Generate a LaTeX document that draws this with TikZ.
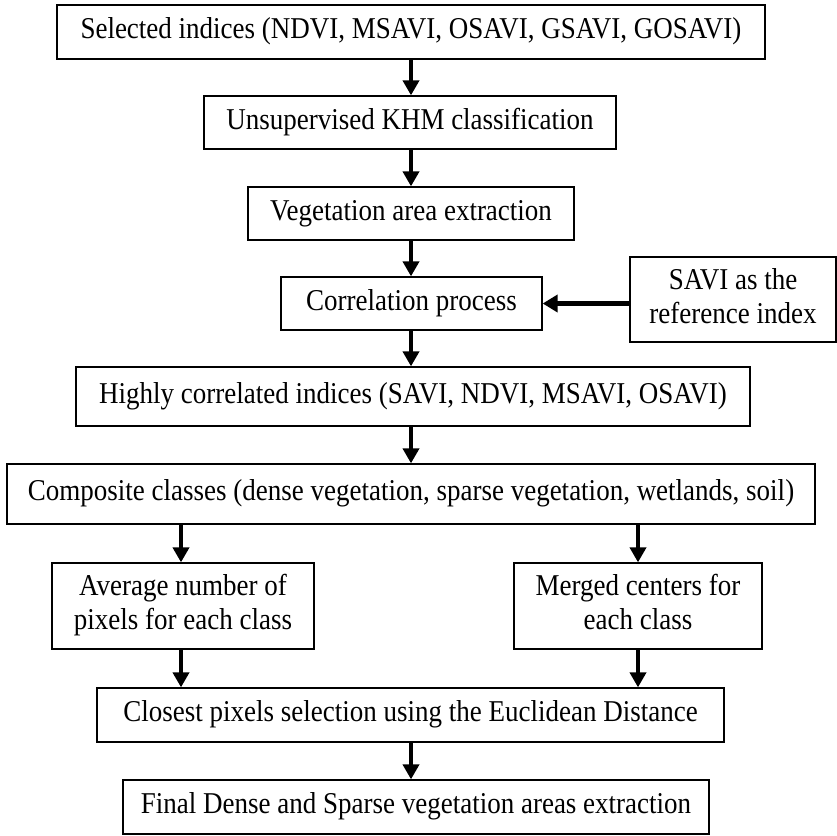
\documentclass[tikz,border=0pt]{standalone}
\usepackage{fontspec}
\setmainfont{Liberation Serif}
\usetikzlibrary{arrows.meta}
\newcommand\vt[1]{\scalebox{1}[1.12]{\begin{tabular}{@{}c@{}}#1\end{tabular}}}
\begin{document}
\begin{tikzpicture}[x=1pt,y=-1pt,
  box/.style={draw, line width=1.3pt, inner sep=0pt, align=center,
    font=\fontsize{27}{30.5}\selectfont},
  arr/.style={line width=4.5pt, -{Triangle[length=15pt,width=16pt]}},
  harr/.style={line width=5.5pt, -{Triangle[length=15pt,width=17pt]}}]
\useasboundingbox (0,0) rectangle (837,835);
\node[box, minimum width=708, minimum height=54] (b1) at (411,32) {\vt{Selected indices (NDVI, MSAVI, OSAVI, GSAVI, GOSAVI)}};
\node[box, minimum width=412, minimum height=53] (b2) at (410,122.5) {\vt{Unsupervised KHM classification}};
\node[box, minimum width=326, minimum height=53] (b3) at (411,213.5) {\vt{Vegetation area extraction}};
\node[box, minimum width=261, minimum height=53] (b4) at (411.5,303.5) {\vt{Correlation process}};
\node[box, minimum width=206, minimum height=85] (b5) at (733,299.5) {\vt{SAVI as the\\reference index}};
\node[box, minimum width=674, minimum height=59] (b6) at (413,396.5) {\vt{Highly correlated indices (SAVI, NDVI, MSAVI, OSAVI)}};
\node[box, minimum width=808, minimum height=60] (b7) at (411,494) {\vt{Composite classes (dense vegetation, sparse vegetation, wetlands, soil)}};
\node[box, minimum width=262, minimum height=86] (b8) at (183,606) {\vt{Average number of\\pixels for each class}};
\node[box, minimum width=248, minimum height=86] (b9) at (638,606) {\vt{Merged centers for\\each class}};
\node[box, minimum width=627, minimum height=54] (b10) at (410.5,715) {\vt{Closest pixels selection using the Euclidean Distance}};
\node[box, minimum width=586, minimum height=54] (b11) at (416,807) {\vt{Final Dense and Sparse vegetation areas extraction}};
\coordinate (cx) at (411,0);
\coordinate (lx) at (181,0);
\coordinate (rx) at (638,0);
\draw[arr] (b1.south -| cx) -- (b2.north -| cx);
\draw[arr] (b2.south -| cx) -- (b3.north -| cx);
\draw[arr] (b3.south -| cx) -- (b4.north -| cx);
\draw[harr] (b5.west |- b4.east) -- (b4.east);
\draw[arr] (b4.south -| cx) -- (b6.north -| cx);
\draw[arr] (b6.south -| cx) -- (b7.north -| cx);
\draw[arr] (b7.south -| lx) -- (b8.north -| lx);
\draw[arr] (b7.south -| rx) -- (b9.north -| rx);
\draw[arr] (b8.south -| lx) -- (b10.north -| lx);
\draw[arr] (b9.south -| rx) -- (b10.north -| rx);
\draw[arr] (b10.south -| cx) -- (b11.north -| cx);
\end{tikzpicture}
\end{document}
